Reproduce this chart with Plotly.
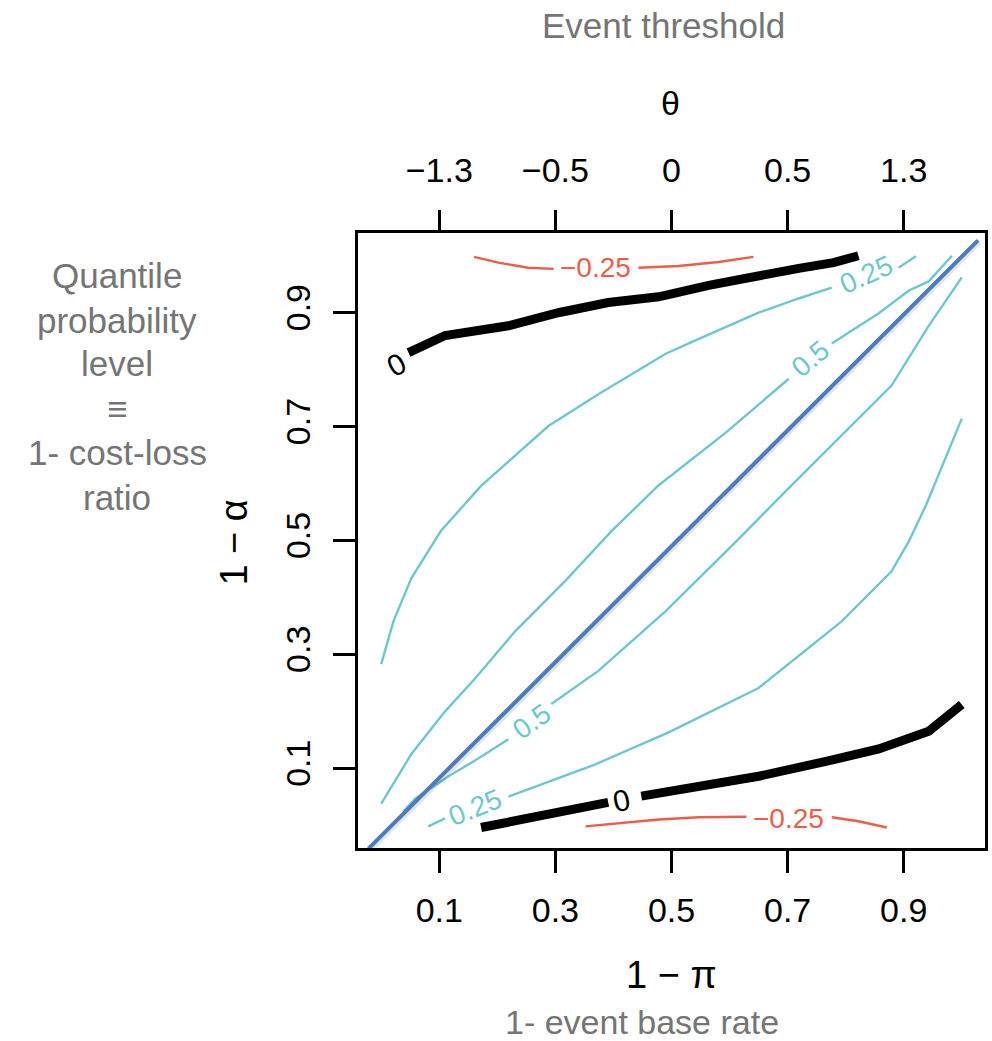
import plotly.graph_objects as go

# ---------------- data ----------------
tick_vals = [0.1, 0.3, 0.5, 0.7, 0.9]
bottom_tick_text = ["0.1", "0.3", "0.5", "0.7", "0.9"]
left_tick_text = ["0.1", "0.3", "0.5", "0.7", "0.9"]
theta_tick_text = ["\u22121.3", "\u22120.5", "0", "0.5", "1.3"]

# contour level 0 (black, thick)
zero_upper_x = [0.047, 0.110, 0.219, 0.305, 0.391, 0.478, 0.564, 0.650, 0.719, 0.779, 0.822]
zero_upper_y = [0.830, 0.860, 0.877, 0.900, 0.918, 0.928, 0.948, 0.966, 0.978, 0.988, 1.000]
zero_lower_x = [0.172, 0.236, 0.305, 0.391, None, 0.448, 0.547, 0.650, 0.766, 0.857, 0.943, 1.000]
zero_lower_y = [-0.004, 0.010, 0.022, 0.040, None, 0.051, 0.067, 0.086, 0.112, 0.134, 0.165, 0.212]

# contour level -0.25 (red)
neg_upper_x = [0.160, 0.202, 0.253, 0.297, None, 0.443, 0.512, 0.581, 0.641]
neg_upper_y = [0.998, 0.988, 0.979, 0.977, None, 0.979, 0.982, 0.989, 0.998]
neg_lower_x = [0.352, 0.409, 0.478, 0.547, 0.629, None, 0.776, 0.822, 0.871]
neg_lower_y = [-0.002, 0.003, 0.010, 0.014, 0.015, None, 0.014, 0.007, -0.004]

# contour level 0.25 (cyan)
q25_upper_x = [0.000, 0.021, 0.052, 0.103, 0.172, 0.236, 0.288, 0.374, 0.490, 0.547, 0.650, 0.719, 0.776, None, 0.891, 0.921]
q25_upper_y = [0.283, 0.358, 0.434, 0.517, 0.596, 0.654, 0.701, 0.757, 0.828, 0.854, 0.900, 0.925, 0.944, None, 0.979, 0.999]
q25_lower_x = [0.081, 0.110, None, 0.219, 0.369, 0.495, 0.650, 0.793, 0.879, 0.909, 0.938, 1.000]
q25_lower_y = [-0.002, 0.012, None, 0.050, 0.107, 0.163, 0.241, 0.358, 0.446, 0.499, 0.561, 0.714]

# contour level 0.5 (cyan)
q50_upper_x = [0.000, 0.052, 0.110, 0.162, 0.231, 0.317, 0.397, 0.478, 0.593, 0.702, None, 0.776, 0.857, 0.909, 0.943, 0.983]
q50_upper_y = [0.038, 0.125, 0.200, 0.258, 0.341, 0.429, 0.517, 0.597, 0.689, 0.784, None, 0.846, 0.899, 0.939, 0.955, 1.000]
q50_lower_x = [0.038, 0.059, 0.116, 0.167, 0.219, None, 0.293, 0.374, 0.490, 0.612, 0.702, 0.788, 0.879, 0.943, 1.000]
q50_lower_y = [0.024, 0.047, 0.086, 0.117, 0.151, None, 0.213, 0.271, 0.376, 0.499, 0.592, 0.679, 0.772, 0.877, 0.962]

# diagonal (1 - alpha = 1 - pi)
diag_x = [-0.022, 1.028]
diag_y = [-0.041, 1.027]

# contour labels: text, x, y, angle, colour key
label_text = ["0", "0", "\u22120.25", "\u22120.25", "0.25", "0.25", "0.5", "0.5"]
label_x = [0.026, 0.414, 0.369, 0.702, 0.836, 0.162, 0.740, 0.259]
label_y = [0.809, 0.044, 0.979, 0.012, 0.967, 0.031, 0.819, 0.183]
label_angle = [-28, -12, 0, 0, -24, -22, -40, -36]
label_kind = ["zero", "zero", "neg", "neg", "pos", "pos", "pos", "pos"]

# ---------------- styling ----------------
CYAN = "#6FC7CD"
RED = "#EE5D48"
BLUE = "#4A7CC4"
GRAY = "#757575"
FONT = "Liberation Sans, Arial, Helvetica, sans-serif"
colors = {"zero": "black", "neg": RED, "pos": CYAN}
label_sizes = {"zero": 30, "neg": 28, "pos": 28}

fig = go.Figure()

def add_line(x, y, color, width):
    fig.add_trace(go.Scatter(x=x, y=y, mode="lines", line=dict(color=color, width=width),
                             hoverinfo="skip", showlegend=False, connectgaps=False))

add_line(q25_upper_x, q25_upper_y, CYAN, 2.4)
add_line(q25_lower_x, q25_lower_y, CYAN, 2.4)
add_line(q50_upper_x, q50_upper_y, CYAN, 2.4)
add_line(q50_lower_x, q50_lower_y, CYAN, 2.4)
add_line(neg_upper_x, neg_upper_y, RED, 2.4)
add_line(neg_lower_x, neg_lower_y, RED, 2.4)
add_line(zero_upper_x, zero_upper_y, "black", 9)
add_line(zero_lower_x, zero_lower_y, "black", 9)

# soft shadow then blue diagonal
add_line([v + 0.003 for v in diag_x], [v - 0.004 for v in diag_y], "rgba(0,0,0,0.10)", 4)
add_line(diag_x, diag_y, BLUE, 4)

# invisible trace on top axis so that it renders
fig.add_trace(go.Scatter(x=tick_vals, y=tick_vals, xaxis="x2", mode="markers",
                         marker=dict(opacity=0), hoverinfo="skip", showlegend=False))

# contour labels
for t, x, y, a, k in zip(label_text, label_x, label_y, label_angle, label_kind):
    fig.add_annotation(x=x, y=y, xref="x", yref="y", text=t, showarrow=False,
                       textangle=a, font=dict(family=FONT, size=label_sizes[k], color=colors[k]))

axis_common = dict(range=[-0.04, 1.04], tickvals=tick_vals, ticks="outside", ticklen=22,
                   tickwidth=2.5, tickcolor="black", showgrid=False, zeroline=False,
                   tickfont=dict(family=FONT, size=34, color="black"))

fig.update_layout(
    width=992, height=1041, autosize=False,
    margin=dict(l=358, r=4, t=233, b=193),
    paper_bgcolor="white", plot_bgcolor="white",
    xaxis=dict(**axis_common, ticktext=bottom_tick_text, showline=True, linewidth=2.5,
               linecolor="black", mirror=True, ticklabelstandoff=8),
    xaxis2=dict(**axis_common, ticktext=theta_tick_text, overlaying="x", side="top",
                showline=False, ticklabelstandoff=14),
    yaxis=dict(**axis_common, ticktext=left_tick_text, showline=True, linewidth=2.5,
               linecolor="black", mirror=True, tickangle=-90, ticklabelstandoff=10),
)

# axis titles and explanatory texts (paper coordinates)
def px_x(p):
    return (p - 358) / 630

def px_y(p):
    return (848 - p) / 615

def add_text(text, x, y, size, color, angle=0):
    fig.add_annotation(x=px_x(x), y=px_y(y), xref="paper", yref="paper", text=text,
                       showarrow=False, textangle=angle, xanchor="center", yanchor="middle",
                       font=dict(family=FONT, size=size, color=color))

add_text("Event threshold", 665, 25, 35, GRAY)
add_text("\u03b8", 672, 103, 34, "black")
add_text("1 \u2212 \u03c0", 673, 975, 38, "black")
add_text("1- event base rate", 643, 1022, 34, GRAY)
add_text("1 \u2212 \u03b1", 233, 543, 38, "black", angle=-90)

left_lines = ["Quantile", "probability", "level", "\u2261", "1- cost-loss", "ratio"]
left_y = [275, 320, 363, 408, 452, 497]
for t, yy in zip(left_lines, left_y):
    add_text(t, 116, yy, 35, GRAY)

fig.write_html("out.html", config={"displayModeBar": False},
               post_script="document.body.style.margin='0px';")
